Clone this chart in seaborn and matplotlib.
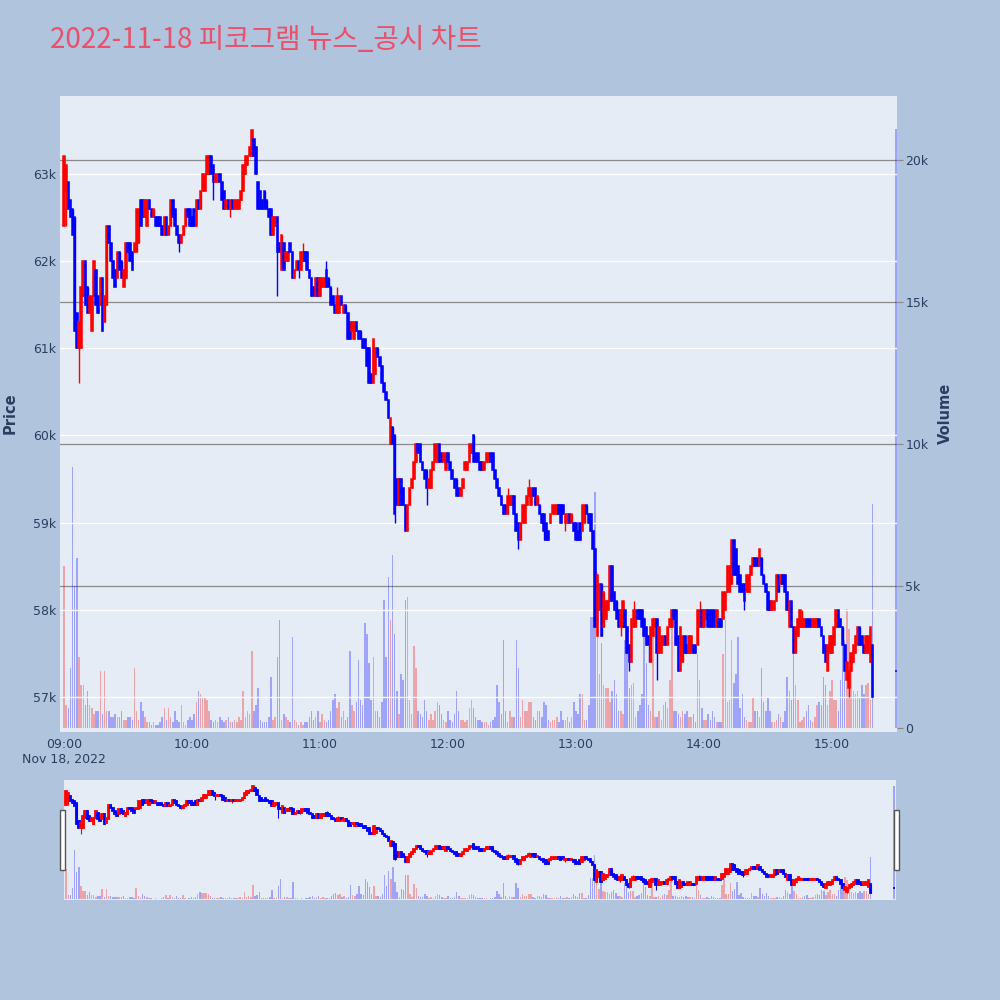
import numpy as np
import pandas as pd
import matplotlib
matplotlib.use("Agg")
import matplotlib.pyplot as plt
import seaborn as sns
from matplotlib.patches import Rectangle

# ---------------- data (prices in units of 100 won, volume in units of 100 shares) ----------------
title_text = "2022-11-18 피코그램 뉴스_공시 차트"
hour_ticks = [0, 60, 120, 180, 240, 300, 360]
hour_labels = ["09:00\nNov 18, 2022", "10:00", "11:00", "12:00", "13:00", "14:00", "15:00"]
price_ticks = [57000, 58000, 59000, 60000, 61000, 62000, 63000]
price_labels = ["57k", "58k", "59k", "60k", "61k", "62k", "63k"]
volume_ticks = [0, 5000, 10000, 15000, 20000]
volume_labels = ["0", "5k", "10k", "15k", "20k"]

# minutes after 09:00 (continuous session 09:00-15:19 and 15:30 closing auction)
minutes = list(range(0, 380)) + [390]

opens = [
    624, 628, 629, 627, 626, 625, 614, 610, 610, 616,
    620, 617, 614, 612, 616, 619, 616, 615, 618, 613,
    615, 624, 622, 620, 619, 618, 621, 620, 617, 618,
    622, 622, 621, 621, 621, 622, 627, 627, 625, 624,
    627, 626, 625, 625, 625, 625, 624, 623,
    625, 623, 624, 627, 626, 624, 623, 622, 623, 624,
    626, 626, 625, 626, 624, 627, 626, 628, 628, 630,
    630, 632, 631, 629, 629, 630, 629, 628, 626, 627,
    626, 627, 626, 626, 626, 627, 628, 630, 631, 632,
    632, 634, 633, 629, 628, 627, 628, 627, 626,
    626, 623, 624, 625, 622, 619, 622, 620, 620, 622,
    621, 618, 619, 620, 619, 620, 621, 621, 619, 618,
    617, 616, 618, 616, 617, 617, 619, 618, 617, 616,
    615, 614, 614, 616, 614, 615, 614, 613, 612, 611,
    613, 612, 612, 611, 611, 610, 610, 607, 606,
    607, 610, 609, 608, 606, 605, 604, 599, 601, 600,
    595, 592, 595, 594, 592, 589, 592, 594, 595, 597,
    599, 599, 597, 596, 596, 594, 594, 596, 597, 597,
    599, 598, 597, 596, 598, 597, 596, 595, 595, 594,
    593, 594, 596, 596, 597, 598, 600, 598, 598,
    597, 597, 596, 597, 597, 598, 598, 596, 595, 594,
    593, 592, 592, 591, 592, 592, 593, 591, 590, 588,
    590, 590, 592, 593, 592, 594, 594, 592, 592, 591,
    591, 590, 589, 590, 591, 591, 591, 592, 592, 592,
    590, 590, 591, 590, 590, 590, 589, 590, 589, 590,
    592, 591, 591, 589, 587, 577, 580, 583, 578, 579,
    580, 581, 585, 582, 581, 580, 578, 578, 580, 578,
    576, 574, 578, 578, 580, 580, 580, 579, 578, 577,
    574, 577, 578, 579, 575, 575, 576, 577, 576, 578,
    578, 580, 580, 577, 573, 574, 577, 576, 575,
    575, 576, 576, 576, 578, 580, 578, 579, 580, 580,
    580, 580, 578, 579, 579, 579, 580, 582, 582, 583,
    588, 587, 585, 584, 583, 583, 582, 582, 584, 585,
    586, 586, 585, 586, 584, 583, 582, 581, 580, 580,
    581, 584, 583, 584, 584, 582, 578, 581, 578,
    575, 577, 578, 578, 578, 579, 579, 579, 578, 578,
    578, 579, 578, 577, 576, 573, 575, 575, 576, 578,
    580, 579, 578, 576, 572, 571, 573, 574, 575, 576,
    578, 577, 576, 575, 575, 574, 576,
    573,
]

closes = [
    632, 631, 626, 625, 623, 612, 610, 613, 617, 620,
    615, 614, 616, 616, 620, 615, 614, 618, 612, 616,
    624, 622, 620, 618, 617, 621, 619, 618, 619, 622,
    621, 620, 619, 622, 626, 626, 624, 625, 627, 627,
    626, 625, 626, 624, 624, 624, 623, 625,
    623, 624, 627, 625, 624, 623, 622, 623, 624, 626,
    625, 624, 624, 624, 627, 626, 628, 630, 630, 632,
    632, 630, 629, 630, 630, 629, 627, 626, 627, 626,
    627, 626, 627, 627, 627, 628, 631, 632, 632, 633,
    635, 632, 630, 626, 626, 626, 626, 626, 625,
    623, 625, 625, 621, 621, 623, 619, 621, 621, 621,
    618, 619, 620, 619, 621, 621, 620, 619, 618, 616,
    616, 618, 616, 618, 618, 618, 617, 617, 615, 615,
    614, 616, 616, 615, 615, 614, 611, 611, 613, 613,
    612, 611, 611, 610, 610, 608, 606, 606, 611,
    610, 609, 608, 606, 605, 604, 602, 602, 599, 591,
    592, 595, 592, 592, 589, 592, 594, 595, 597, 599,
    598, 597, 596, 595, 594, 595, 596, 597, 599, 599,
    597, 597, 598, 598, 597, 596, 595, 594, 593, 593,
    594, 595, 597, 597, 599, 599, 597, 597, 597,
    596, 596, 597, 598, 598, 597, 596, 595, 594, 593,
    592, 591, 591, 593, 593, 593, 591, 589, 588, 590,
    592, 592, 593, 594, 594, 593, 592, 593, 591, 590,
    589, 588, 588, 591, 592, 592, 592, 591, 590, 591,
    591, 591, 590, 591, 589, 588, 588, 588, 592, 592,
    591, 590, 589, 587, 578, 584, 583, 577, 582, 581,
    581, 585, 581, 580, 579, 578, 580, 581, 578, 575,
    574, 579, 580, 580, 579, 579, 578, 577, 576, 576,
    578, 579, 579, 575, 578, 577, 577, 576, 578, 579,
    580, 579, 576, 573, 578, 577, 575, 575, 577,
    577, 575, 575, 580, 580, 578, 580, 580, 578, 578,
    578, 578, 580, 578, 578, 582, 582, 585, 585, 588,
    584, 584, 583, 582, 582, 581, 584, 584, 585, 586,
    585, 585, 587, 584, 583, 582, 580, 580, 581, 581,
    584, 582, 584, 583, 582, 580, 581, 578, 575,
    578, 579, 580, 579, 579, 578, 578, 578, 579, 579,
    579, 578, 577, 575, 574, 576, 577, 577, 578, 580,
    578, 578, 576, 573, 574, 573, 575, 576, 577, 578,
    576, 576, 575, 577, 577, 578, 570,
    573,
]

volumes = [
    57, 8, 7, 21, 92, 50, 60, 25, 15, 15,
    8, 13, 8, 7, 5, 6, 6, 20, 5, 20,
    6, 6, 4, 4, 5, 4, 4, 6, 3, 3,
    4, 4, 3, 21, 6, 3, 9, 6, 4, 2,
    2, 1, 2, 1, 1, 2, 4, 7,
    3, 7, 4, 2, 6, 3, 2, 8, 2, 1,
    3, 4, 3, 5, 9, 13, 12, 11, 11, 10,
    6, 3, 2, 3, 2, 4, 3, 2, 3, 4,
    2, 2, 3, 2, 4, 3, 13, 4, 6, 5,
    27, 6, 8, 14, 3, 2, 2, 2, 4,
    18, 3, 4, 25, 38, 3, 5, 4, 3, 2,
    32, 3, 2, 1, 2, 1, 2, 2, 4, 6,
    3, 4, 6, 2, 5, 3, 2, 3, 6, 10,
    12, 7, 9, 4, 6, 3, 4, 27, 8, 6,
    9, 24, 10, 8, 37, 33, 23, 10, 25,
    6, 6, 4, 9, 45, 25, 53, 38, 61, 33,
    13, 5, 19, 17, 45, 46, 10, 5, 29, 21,
    6, 5, 4, 10, 6, 3, 5, 3, 6, 9,
    8, 5, 3, 2, 6, 3, 2, 5, 13, 6,
    3, 3, 2, 3, 7, 10, 7, 4, 3,
    3, 2, 2, 2, 1, 2, 3, 4, 15, 9,
    5, 31, 6, 2, 6, 4, 4, 31, 21, 4,
    10, 6, 6, 9, 9, 4, 3, 6, 6, 4,
    9, 8, 3, 2, 3, 3, 4, 2, 6, 3,
    3, 4, 2, 4, 9, 6, 5, 12, 12, 3,
    3, 8, 39, 39, 83, 55, 19, 30, 15, 14,
    14, 9, 13, 17, 12, 6, 6, 5, 31, 29,
    14, 15, 16, 4, 6, 8, 12, 39, 23, 8,
    6, 38, 4, 4, 6, 3, 8, 9, 7, 17,
    39, 6, 6, 5, 4, 6, 5, 6, 4,
    4, 5, 2, 26, 17, 7, 3, 3, 5, 3,
    6, 4, 2, 2, 2, 26, 38, 9, 10, 31,
    16, 19, 32, 7, 12, 4, 3, 2, 2, 11,
    6, 6, 4, 21, 9, 6, 11, 6, 2, 2,
    3, 5, 4, 2, 6, 18, 13, 10, 26,
    15, 10, 2, 3, 4, 6, 8, 3, 2, 4,
    8, 9, 8, 18, 15, 8, 13, 17, 10, 10,
    6, 17, 31, 31, 42, 35, 25, 13, 12, 13,
    11, 15, 12, 15, 16, 10, 79,
    211,
]

wick_high = {0: 632, 112: 622, 123: 620, 128: 617, 192: 600, 208: 594, 218: 595,
             267: 581, 298: 581, 326: 587, 346: 580}
wick_low = {1: 624, 7: 606, 54: 621, 70: 627, 78: 625, 100: 616, 110: 618, 155: 590,
            170: 592, 213: 587, 225: 588, 235: 589, 261: 577, 265: 573, 274: 574,
            278: 572, 319: 580, 340: 578, 358: 573, 368: 570}

# ---------------- frame ----------------
df = pd.DataFrame({
    "minute": minutes,
    "open": np.array(opens) * 100,
    "close": np.array(closes) * 100,
    "volume": np.array(volumes) * 100,
})
hi_extra = df["minute"].map(wick_high).fillna(0) * 100
lo_extra = df["minute"].map(wick_low).fillna(1e9) * 100
df["high"] = np.maximum(np.maximum(df["open"], df["close"]), hi_extra)
df["low"] = np.minimum(np.minimum(df["open"], df["close"]), lo_extra)
df["dir"] = np.where(df["close"] > df["open"], "up", "down")

UP, DOWN = "#FF0000", "#0000FF"
PAPER, PLOT_BG = "#B0C4DE", "#E5ECF6"
TXT = "#2a3f5f"
palette = {"up": UP, "down": DOWN}

sns.set_style("white")
plt.rcParams["font.family"] = ["DejaVu Sans"]

fig = plt.figure(figsize=(10, 10), dpi=100, facecolor=PAPER)

main_rect = [0.060, 0.268, 0.837, 0.636]
axv = fig.add_axes(main_rect, facecolor=PLOT_BG)
axp = fig.add_axes(main_rect, facecolor="none")

XMIN, XMAX = -1.9, 390.5
PMIN, PMAX = 56600, 63890
VMIN, VMAX = -140, 22250


def draw_volume(ax, width, alpha):
    sns.barplot(data=df, x="minute", y="volume", hue="dir", palette=palette,
                native_scale=True, dodge=False, width=width, alpha=alpha,
                saturation=1, errorbar=None, legend=False, linewidth=0, ax=ax)
    ax.set_xlabel("")
    ax.set_ylabel("")


def draw_candles(ax, body_w, edge_lw, wick_lw):
    cols = df["dir"].map(palette).tolist()
    ax.vlines(df["minute"], df["low"], df["high"], colors=cols, lw=wick_lw, zorder=2)
    bottom = np.minimum(df["open"], df["close"])
    height = np.abs(df["close"] - df["open"])
    ax.bar(df["minute"], height, bottom=bottom, width=body_w, color=cols,
           edgecolor=cols, linewidth=edge_lw, zorder=3)


# volume (secondary axis, right)
draw_volume(axv, 0.7, 0.3)
for v in volume_ticks[1:]:
    axv.axhline(v, color="#8a8a8a", lw=0.9, zorder=0.5)
axv.set_xlim(XMIN, XMAX)
axv.set_ylim(VMIN, VMAX)
axv.yaxis.tick_right()
axv.set_yticks(volume_ticks)
axv.set_yticklabels(volume_labels)
axv.tick_params(axis="y", length=4, width=0.9, color="#8a8a8a", pad=2,
                labelsize=9, labelcolor=TXT)
axv.set_xticks(hour_ticks)
axv.set_xticklabels(hour_labels, linespacing=1.25)
axv.tick_params(axis="x", length=0, pad=4, labelsize=9, labelcolor=TXT)
for s in axv.spines.values():
    s.set_visible(False)

# price (primary axis, left)
draw_candles(axp, 0.72, 1.1, 1.0)
axp.set_xlim(XMIN, XMAX)
axp.set_ylim(PMIN, PMAX)
axp.set_yticks(price_ticks)
axp.set_yticklabels(price_labels)
axp.tick_params(axis="y", length=0, pad=3, labelsize=9, labelcolor=TXT)
axp.set_xticks([])
axp.yaxis.grid(True, color="white", lw=1.0, zorder=0)
axp.set_axisbelow(True)
for s in axp.spines.values():
    s.set_visible(False)

# range slider
sl_rect = [0.064, 0.100, 0.832, 0.120]
asv = fig.add_axes(sl_rect, facecolor=PLOT_BG)
asp = fig.add_axes(sl_rect, facecolor="none")
draw_volume(asv, 0.7, 0.3)
asv.set_xlim(-1, 391)
asv.set_ylim(VMIN, VMAX)
draw_candles(asp, 0.7, 1.3, 0.8)
asp.set_xlim(-1, 391)
asp.set_ylim(PMIN, PMAX)
for a in (asv, asp):
    a.set_xticks([])
    a.set_yticks([])
    for s in a.spines.values():
        s.set_visible(False)

for hx in (0.0600, 0.8940):
    fig.add_artist(Rectangle((hx, 0.130), 0.0048, 0.060, transform=fig.transFigure,
                             facecolor="white", edgecolor="#555555", lw=1.0, zorder=10))

# texts
fig.text(0.050, 0.960, title_text, fontsize=20, color="#E9506A",
         family=["Noto Sans CJK KR", "DejaVu Sans"], ha="left", va="center")
fig.text(0.010, 0.587, "Price", rotation=90, ha="center", va="center",
         fontsize=10.5, fontweight="bold", color=TXT)
fig.text(0.945, 0.587, "Volume", rotation=90, ha="center", va="center",
         fontsize=10.5, fontweight="bold", color=TXT)

fig.savefig("out.png", dpi=100, facecolor=PAPER)
